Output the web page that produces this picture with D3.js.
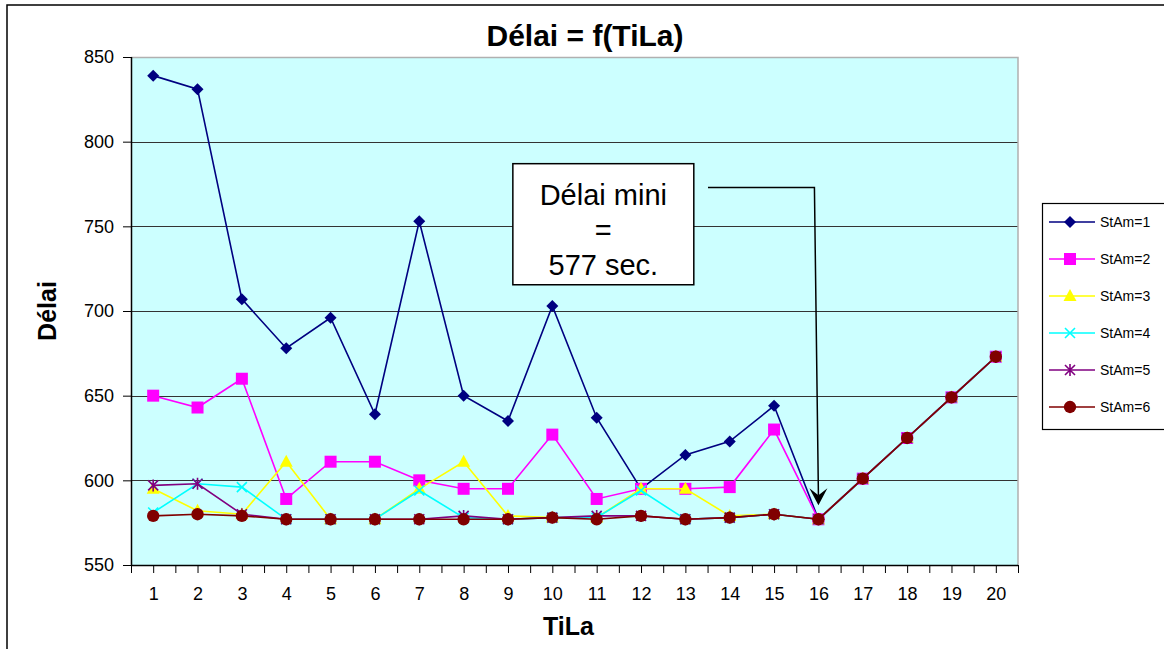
<!DOCTYPE html>
<html>

<head>
    <meta charset="UTF-8">
    <title>Délai = f(TiLa)</title>
    <style>
        body {
            margin: 0;
            background: #fff;
            font-family: "Liberation Sans", Arial, sans-serif;
        }

        .axis path {
            display: none;
        }

        .axis line {
            stroke: #000;
        }

        .axis text {
            font-size: 18px;
            fill: #000;
        }

        .grid line {
            stroke: #333;
            stroke-width: 1px;
        }

        .line {
            fill: none;
            stroke-width: 1.6px;
        }

        .legend text {
            font-size: 14px;
        }
    </style>
</head>

<body>
    <svg id="chart" width="1164" height="649"></svg>

    <script src="https://cdn.jsdelivr.net/npm/d3@7"></script>

    <script>
        // TiLa
        const tila = [1, 2, 3, 4, 5, 6, 7, 8, 9, 10, 11, 12, 13, 14, 15, 16, 17, 18, 19, 20];

        // Délai per StAm
        const stam1 = [839, 831, 707, 678, 696, 639, 753, 650, 635, 703, 637, 595, 615, 623, 644, 577, 601, 625, 649, 673];
        const stam2 = [650, 643, 660, 589, 611, 611, 600, 595, 595, 627, 589, 595, 595, 596, 630, 577, 601, 625, 649, 673];
        const stam3 = [595, 582, 580, 611, 577, 577, 595, 611, 579, 578, 578, 595, 595, 579, 580, 577, 601, 625, 649, 673];
        const stam4 = [581, 598, 596, 577, 577, 577, 594, 578, 577, 578, 578, 594, 577, 578, 580, 577, 601, 625, 649, 673];
        const stam5 = [597, 598, 580, 577, 577, 577, 577, 579, 577, 578, 579, 579, 577, 578, 580, 577, 601, 625, 649, 673];
        const stam6 = [579, 580, 579, 577, 577, 577, 577, 577, 577, 578, 577, 579, 577, 578, 580, 577, 601, 625, 649, 673];

        const seriesNames = ['StAm=1', 'StAm=2', 'StAm=3', 'StAm=4', 'StAm=5', 'StAm=6'];
        const seriesValues = [stam1, stam2, stam3, stam4, stam5, stam6];
        const seriesColors = ['#000080', '#ff00ff', '#ffff00', '#00ffff', '#800080', '#800000'];
        const seriesMarkers = ['diamond', 'square', 'triangle', 'cross', 'star', 'circle'];

        const yTicks = [550, 600, 650, 700, 750, 800, 850];

        const minDelai = 577;
        const minTila = 16;

        const margin = { top: 57, right: 146, bottom: 84, left: 131 };
        const width = 1164 - margin.left - margin.right;
        const height = 649 - margin.top - margin.bottom;

        const svg = d3.select('#chart');

        // outer chart frame
        svg.append('rect')
            .attr('x', 7)
            .attr('y', 5)
            .attr('width', 1170)
            .attr('height', 660)
            .attr('fill', '#fff')
            .attr('stroke', '#000')
            .attr('stroke-width', 1.5);

        const x = d3.scaleLinear()
            .domain([0.5, tila.length + 0.5])
            .range([0, width]);

        const y = d3.scaleLinear()
            .domain([550, 850])
            .range([height, 0]);

        const g = svg.append('g')
            .attr('transform', `translate(${ margin.left },${ margin.top })`);

        g.append('rect')
            .attr('width', width)
            .attr('height', height)
            .attr('fill', '#ccffff');

        // gridlines
        g.append('g')
            .attr('class', 'grid')
            .selectAll('line')
            .data(yTicks.slice(1, -1))
            .enter()
            .append('line')
            .attr('x1', 0)
            .attr('x2', width)
            .attr('y1', d => Math.round(y(d)) + 0.5)
            .attr('y2', d => Math.round(y(d)) + 0.5);

        // plot border top / right (grey)
        g.append('path')
            .attr('d', `M0,0.5H${ width }V${ height }`)
            .attr('fill', 'none')
            .attr('stroke', '#b0b0b0')
            .attr('stroke-width', 1.5);

        // y axis
        g.append('g')
            .attr('class', 'axis y-axis')
            .call(d3.axisLeft(y).tickValues(yTicks).tickSize(8).tickPadding(9));

        g.append('line')
            .attr('x1', 0.5).attr('x2', 0.5)
            .attr('y1', 0).attr('y2', height)
            .attr('stroke', '#000')
            .attr('stroke-width', 1.5);

        // x axis: ticks at categories and between them
        const halfTicks = d3.range(0.5, tila.length + 1, 0.5);
        g.append('g')
            .attr('class', 'axis x-axis')
            .attr('transform', `translate(0,${ height })`)
            .call(d3.axisBottom(x)
                .tickValues(halfTicks)
                .tickSize(8)
                .tickPadding(14)
                .tickFormat(d => Number.isInteger(d) ? d : ''));

        g.append('line')
            .attr('x1', 0).attr('x2', width)
            .attr('y1', height + 0.5).attr('y2', height + 0.5)
            .attr('stroke', '#000')
            .attr('stroke-width', 1.5);

        // titles
        svg.append('text')
            .attr('x', 585)
            .attr('y', 46)
            .attr('text-anchor', 'middle')
            .attr('font-size', 30)
            .attr('font-weight', 'bold')
            .text('Délai = f(TiLa)');

        svg.append('text')
            .attr('x', margin.left + width / 2 - 6)
            .attr('y', 635)
            .attr('text-anchor', 'middle')
            .attr('font-size', 25)
            .attr('font-weight', 'bold')
            .text('TiLa');

        svg.append('text')
            .attr('transform', `translate(56,${ margin.top + height / 2 }) rotate(-90)`)
            .attr('text-anchor', 'middle')
            .attr('font-size', 25)
            .attr('font-weight', 'bold')
            .text('Délai');

        // markers
        function markerPath(type) {
            if (type === 'diamond') return 'M0,-6L6,0L0,6L-6,0Z';
            if (type === 'square') return 'M-6,-6H6V6H-6Z';
            if (type === 'triangle') return 'M0,-7L6.5,5H-6.5Z';
            if (type === 'cross') return 'M-5,-5L5,5M5,-5L-5,5';
            if (type === 'star') return 'M-5,-5L5,5M5,-5L-5,5M0,-6V6';
            return d3.symbol().type(d3.symbolCircle).size(120)();
        }

        function drawMarker(sel, type, color) {
            const stroked = type === 'cross' || type === 'star';
            sel.append('path')
                .attr('d', markerPath(type))
                .attr('fill', stroked ? 'none' : color)
                .attr('stroke', color)
                .attr('stroke-width', stroked ? 1.6 : 0);
        }

        const lineGenerator = d3.line()
            .x((d, i) => x(tila[i]))
            .y(d => y(d));

        seriesValues.forEach((values, s) => {
            const sg = g.append('g');
            sg.append('path')
                .attr('class', 'line')
                .attr('d', lineGenerator(values))
                .style('stroke', seriesColors[s]);
            sg.selectAll('g.pt')
                .data(values)
                .enter()
                .append('g')
                .attr('class', 'pt')
                .attr('transform', (d, i) => `translate(${ x(tila[i]) },${ y(d) })`)
                .each(function () {
                    drawMarker(d3.select(this), seriesMarkers[s], seriesColors[s]);
                });
        });

        // annotation
        const note = { x0: 9.11, x1: 13.19, y0: 787, y1: 715.5, lineX: 13.51, lineY: 773 };
        const ann = g.append('g');
        ann.append('rect')
            .attr('x', x(note.x0))
            .attr('y', y(note.y0))
            .attr('width', x(note.x1) - x(note.x0))
            .attr('height', y(note.y1) - y(note.y0))
            .attr('fill', '#fff')
            .attr('stroke', '#000')
            .attr('stroke-width', 1.5);

        const cx = (x(note.x0) + x(note.x1)) / 2;
        const annLines = ['Délai mini', '=', `${ minDelai } sec.`];
        ann.selectAll('text')
            .data(annLines)
            .enter()
            .append('text')
            .attr('x', cx)
            .attr('y', (d, i) => y(note.y0) + 41 + i * 35)
            .attr('text-anchor', 'middle')
            .attr('font-size', 29)
            .text(d => d);

        const tipY = y(minDelai) - 14;
        ann.append('path')
            .attr('d', `M${ x(note.lineX) },${ y(note.lineY) }H${ x(minTila) - 4 }L${ x(minTila) },${ tipY - 10 }`)
            .attr('fill', 'none')
            .attr('stroke', '#000')
            .attr('stroke-width', 1.5);

        ann.append('path')
            .attr('d', `M${ x(minTila) },${ tipY }L${ x(minTila) - 9 },${ tipY - 17 }L${ x(minTila) },${ tipY - 10 }L${ x(minTila) + 9 },${ tipY - 17 }Z`)
            .attr('fill', '#000');

        // legend
        const legend = svg.append('g')
            .attr('class', 'legend')
            .attr('transform', 'translate(1042,203)');

        legend.append('rect')
            .attr('x', 0.5)
            .attr('y', 0.5)
            .attr('width', 140)
            .attr('height', 226)
            .attr('fill', '#fff')
            .attr('stroke', '#000')
            .attr('stroke-width', 1.2);

        const items = legend.selectAll('g.item')
            .data(seriesNames)
            .enter()
            .append('g')
            .attr('class', 'item')
            .attr('transform', (d, i) => `translate(0,${ 19 + i * 37 })`);

        items.append('line')
            .attr('x1', 7)
            .attr('x2', 53)
            .attr('stroke', (d, i) => seriesColors[i])
            .attr('stroke-width', 1.6);

        items.each(function (d, i) {
            const m = d3.select(this).append('g').attr('transform', 'translate(28,0)');
            drawMarker(m, seriesMarkers[i], seriesColors[i]);
        });

        items.append('text')
            .attr('x', 58)
            .attr('y', 5)
            .text(d => d);
    </script>
</body>

</html>
